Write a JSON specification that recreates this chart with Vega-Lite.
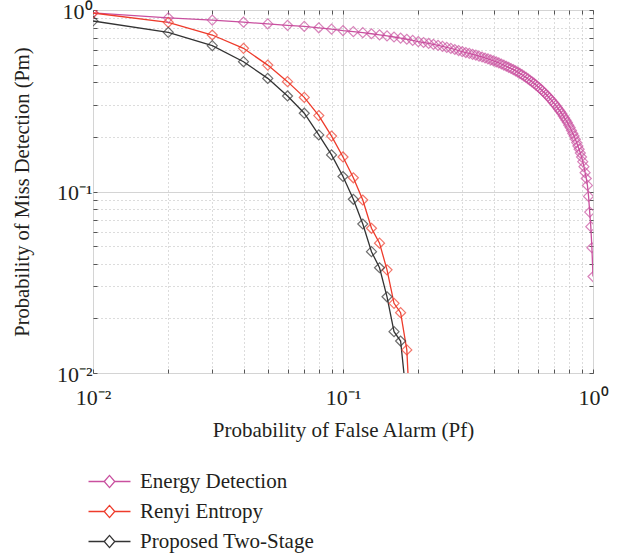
{
  "$schema": "https://vega.github.io/schema/vega-lite/v6.json",
  "width": 500,
  "height": 363,
  "autosize": "none",
  "padding": {"left": 93, "top": 10, "right": 32, "bottom": 183},
  "background": "white",
  "config": {
    "view": {"stroke": "#555555", "strokeWidth": 1},
    "font": "Liberation Serif",
    "axis": {
      "labelFont": "Liberation Serif",
      "labelFontSize": 22,
      "labelColor": "#231f20",
      "titleFont": "Liberation Serif",
      "titleFontSize": 21,
      "titleFontWeight": "normal",
      "titleColor": "#231f20",
      "domain": false,
      "tickColor": "#555555",
      "tickSize": -4,
      "labelFlush": false,
      "labelOverlap": false
    }
  },
  "data": {
    "values": [
      {"s": "Energy Detection", "pf": 0.01, "pm": 0.965},
      {"s": "Energy Detection", "pf": 0.02, "pm": 0.905},
      {"s": "Energy Detection", "pf": 0.03, "pm": 0.88},
      {"s": "Energy Detection", "pf": 0.04, "pm": 0.857},
      {"s": "Energy Detection", "pf": 0.05, "pm": 0.838},
      {"s": "Energy Detection", "pf": 0.06, "pm": 0.823},
      {"s": "Energy Detection", "pf": 0.07, "pm": 0.812},
      {"s": "Energy Detection", "pf": 0.08, "pm": 0.798},
      {"s": "Energy Detection", "pf": 0.09, "pm": 0.784},
      {"s": "Energy Detection", "pf": 0.1, "pm": 0.77},
      {"s": "Energy Detection", "pf": 0.11, "pm": 0.76},
      {"s": "Energy Detection", "pf": 0.12, "pm": 0.75},
      {"s": "Energy Detection", "pf": 0.13, "pm": 0.74},
      {"s": "Energy Detection", "pf": 0.14, "pm": 0.73},
      {"s": "Energy Detection", "pf": 0.15, "pm": 0.72},
      {"s": "Energy Detection", "pf": 0.16, "pm": 0.71},
      {"s": "Energy Detection", "pf": 0.17, "pm": 0.7},
      {"s": "Energy Detection", "pf": 0.18, "pm": 0.69},
      {"s": "Energy Detection", "pf": 0.19, "pm": 0.68},
      {"s": "Energy Detection", "pf": 0.2, "pm": 0.67},
      {"s": "Energy Detection", "pf": 0.21, "pm": 0.662},
      {"s": "Energy Detection", "pf": 0.22, "pm": 0.654},
      {"s": "Energy Detection", "pf": 0.23, "pm": 0.646},
      {"s": "Energy Detection", "pf": 0.24, "pm": 0.638},
      {"s": "Energy Detection", "pf": 0.25, "pm": 0.63},
      {"s": "Energy Detection", "pf": 0.26, "pm": 0.622},
      {"s": "Energy Detection", "pf": 0.27, "pm": 0.614},
      {"s": "Energy Detection", "pf": 0.28, "pm": 0.606},
      {"s": "Energy Detection", "pf": 0.29, "pm": 0.598},
      {"s": "Energy Detection", "pf": 0.3, "pm": 0.59},
      {"s": "Energy Detection", "pf": 0.31, "pm": 0.583},
      {"s": "Energy Detection", "pf": 0.32, "pm": 0.577},
      {"s": "Energy Detection", "pf": 0.33, "pm": 0.57},
      {"s": "Energy Detection", "pf": 0.34, "pm": 0.564},
      {"s": "Energy Detection", "pf": 0.35, "pm": 0.557},
      {"s": "Energy Detection", "pf": 0.36, "pm": 0.551},
      {"s": "Energy Detection", "pf": 0.37, "pm": 0.544},
      {"s": "Energy Detection", "pf": 0.38, "pm": 0.538},
      {"s": "Energy Detection", "pf": 0.39, "pm": 0.531},
      {"s": "Energy Detection", "pf": 0.4, "pm": 0.525},
      {"s": "Energy Detection", "pf": 0.41, "pm": 0.518},
      {"s": "Energy Detection", "pf": 0.42, "pm": 0.511},
      {"s": "Energy Detection", "pf": 0.43, "pm": 0.504},
      {"s": "Energy Detection", "pf": 0.44, "pm": 0.497},
      {"s": "Energy Detection", "pf": 0.45, "pm": 0.49},
      {"s": "Energy Detection", "pf": 0.46, "pm": 0.483},
      {"s": "Energy Detection", "pf": 0.47, "pm": 0.476},
      {"s": "Energy Detection", "pf": 0.48, "pm": 0.469},
      {"s": "Energy Detection", "pf": 0.49, "pm": 0.462},
      {"s": "Energy Detection", "pf": 0.5, "pm": 0.455},
      {"s": "Energy Detection", "pf": 0.51, "pm": 0.447},
      {"s": "Energy Detection", "pf": 0.52, "pm": 0.44},
      {"s": "Energy Detection", "pf": 0.53, "pm": 0.432},
      {"s": "Energy Detection", "pf": 0.54, "pm": 0.425},
      {"s": "Energy Detection", "pf": 0.55, "pm": 0.417},
      {"s": "Energy Detection", "pf": 0.56, "pm": 0.41},
      {"s": "Energy Detection", "pf": 0.57, "pm": 0.402},
      {"s": "Energy Detection", "pf": 0.58, "pm": 0.395},
      {"s": "Energy Detection", "pf": 0.59, "pm": 0.387},
      {"s": "Energy Detection", "pf": 0.6, "pm": 0.38},
      {"s": "Energy Detection", "pf": 0.61, "pm": 0.372},
      {"s": "Energy Detection", "pf": 0.62, "pm": 0.365},
      {"s": "Energy Detection", "pf": 0.63, "pm": 0.357},
      {"s": "Energy Detection", "pf": 0.64, "pm": 0.35},
      {"s": "Energy Detection", "pf": 0.65, "pm": 0.342},
      {"s": "Energy Detection", "pf": 0.66, "pm": 0.335},
      {"s": "Energy Detection", "pf": 0.67, "pm": 0.327},
      {"s": "Energy Detection", "pf": 0.68, "pm": 0.32},
      {"s": "Energy Detection", "pf": 0.69, "pm": 0.312},
      {"s": "Energy Detection", "pf": 0.7, "pm": 0.305},
      {"s": "Energy Detection", "pf": 0.71, "pm": 0.298},
      {"s": "Energy Detection", "pf": 0.72, "pm": 0.29},
      {"s": "Energy Detection", "pf": 0.73, "pm": 0.283},
      {"s": "Energy Detection", "pf": 0.74, "pm": 0.276},
      {"s": "Energy Detection", "pf": 0.75, "pm": 0.269},
      {"s": "Energy Detection", "pf": 0.76, "pm": 0.261},
      {"s": "Energy Detection", "pf": 0.77, "pm": 0.254},
      {"s": "Energy Detection", "pf": 0.78, "pm": 0.247},
      {"s": "Energy Detection", "pf": 0.79, "pm": 0.24},
      {"s": "Energy Detection", "pf": 0.8, "pm": 0.232},
      {"s": "Energy Detection", "pf": 0.81, "pm": 0.225},
      {"s": "Energy Detection", "pf": 0.82, "pm": 0.217},
      {"s": "Energy Detection", "pf": 0.83, "pm": 0.209},
      {"s": "Energy Detection", "pf": 0.84, "pm": 0.202},
      {"s": "Energy Detection", "pf": 0.85, "pm": 0.194},
      {"s": "Energy Detection", "pf": 0.86, "pm": 0.186},
      {"s": "Energy Detection", "pf": 0.87, "pm": 0.178},
      {"s": "Energy Detection", "pf": 0.88, "pm": 0.171},
      {"s": "Energy Detection", "pf": 0.89, "pm": 0.163},
      {"s": "Energy Detection", "pf": 0.9, "pm": 0.155},
      {"s": "Energy Detection", "pf": 0.91, "pm": 0.146},
      {"s": "Energy Detection", "pf": 0.92, "pm": 0.137},
      {"s": "Energy Detection", "pf": 0.93, "pm": 0.127},
      {"s": "Energy Detection", "pf": 0.94, "pm": 0.118},
      {"s": "Energy Detection", "pf": 0.95, "pm": 0.108},
      {"s": "Energy Detection", "pf": 0.96, "pm": 0.094},
      {"s": "Energy Detection", "pf": 0.97, "pm": 0.077},
      {"s": "Energy Detection", "pf": 0.98, "pm": 0.064},
      {"s": "Energy Detection", "pf": 0.99, "pm": 0.049},
      {"s": "Energy Detection", "pf": 1.0, "pm": 0.034},
      {"s": "Renyi Entropy", "pf": 0.01, "pm": 0.963},
      {"s": "Renyi Entropy", "pf": 0.02, "pm": 0.855},
      {"s": "Renyi Entropy", "pf": 0.03, "pm": 0.728},
      {"s": "Renyi Entropy", "pf": 0.04, "pm": 0.615},
      {"s": "Renyi Entropy", "pf": 0.05, "pm": 0.497},
      {"s": "Renyi Entropy", "pf": 0.06, "pm": 0.403},
      {"s": "Renyi Entropy", "pf": 0.07, "pm": 0.33},
      {"s": "Renyi Entropy", "pf": 0.08, "pm": 0.262},
      {"s": "Renyi Entropy", "pf": 0.09, "pm": 0.202},
      {"s": "Renyi Entropy", "pf": 0.1, "pm": 0.155},
      {"s": "Renyi Entropy", "pf": 0.11, "pm": 0.119},
      {"s": "Renyi Entropy", "pf": 0.12, "pm": 0.0898},
      {"s": "Renyi Entropy", "pf": 0.13, "pm": 0.0627},
      {"s": "Renyi Entropy", "pf": 0.14, "pm": 0.0519},
      {"s": "Renyi Entropy", "pf": 0.15, "pm": 0.037},
      {"s": "Renyi Entropy", "pf": 0.16, "pm": 0.0242},
      {"s": "Renyi Entropy", "pf": 0.17, "pm": 0.0215},
      {"s": "Renyi Entropy", "pf": 0.18, "pm": 0.0134},
      {"s": "Renyi Entropy", "pf": 0.19, "pm": 0.003},
      {"s": "Proposed Two-Stage", "pf": 0.01, "pm": 0.87},
      {"s": "Proposed Two-Stage", "pf": 0.02, "pm": 0.753},
      {"s": "Proposed Two-Stage", "pf": 0.03, "pm": 0.636},
      {"s": "Proposed Two-Stage", "pf": 0.04, "pm": 0.519},
      {"s": "Proposed Two-Stage", "pf": 0.05, "pm": 0.42},
      {"s": "Proposed Two-Stage", "pf": 0.06, "pm": 0.336},
      {"s": "Proposed Two-Stage", "pf": 0.07, "pm": 0.27},
      {"s": "Proposed Two-Stage", "pf": 0.08, "pm": 0.205},
      {"s": "Proposed Two-Stage", "pf": 0.09, "pm": 0.159},
      {"s": "Proposed Two-Stage", "pf": 0.1, "pm": 0.121},
      {"s": "Proposed Two-Stage", "pf": 0.11, "pm": 0.0906},
      {"s": "Proposed Two-Stage", "pf": 0.12, "pm": 0.0662},
      {"s": "Proposed Two-Stage", "pf": 0.13, "pm": 0.0466},
      {"s": "Proposed Two-Stage", "pf": 0.14, "pm": 0.038},
      {"s": "Proposed Two-Stage", "pf": 0.15, "pm": 0.0263},
      {"s": "Proposed Two-Stage", "pf": 0.16, "pm": 0.0169},
      {"s": "Proposed Two-Stage", "pf": 0.17, "pm": 0.015},
      {"s": "Proposed Two-Stage", "pf": 0.18, "pm": 0.007}
    ]
  },
  "resolve": {"axis": {"x": "independent", "y": "independent"}},
  "layer": [
    {
      "mark": {"type": "line", "clip": true, "strokeWidth": 1.3},
      "encoding": {
        "x": {
          "field": "pf", "type": "quantitative",
          "scale": {"type": "log", "domain": [0.01, 1], "nice": false},
          "axis": {
            "orient": "bottom",
            "title": "Probability of False Alarm (Pf)",
            "values": [0.01,0.02,0.03,0.04,0.05,0.06,0.07,0.08,0.09,0.1,0.2,0.3,0.4,0.5,0.6,0.7,0.8,0.9,1],
            "labelExpr": "datum.value == 0.01 ? '10⁻²' : datum.value == 0.1 ? '10⁻¹' : datum.value == 1 ? '10⁰' : ''",
            "labelPadding": 18,
            "titlePadding": 11,
            "gridDash": {"condition": {"test": "datum.value == 0.01 || datum.value == 0.1 || datum.value == 1", "value": []}, "value": [1, 3]},
            "gridColor": {"condition": {"test": "datum.value == 0.01 || datum.value == 0.1 || datum.value == 1", "value": "#d4d4d4"}, "value": "#b8b8b8"},
            "gridOpacity": 1,
            "gridWidth": 1
          }
        },
        "y": {
          "field": "pm", "type": "quantitative",
          "scale": {"type": "log", "domain": [0.01, 1], "nice": false},
          "axis": {
            "orient": "left",
            "title": "Probability of Miss Detection (Pm)",
            "titleFontSize": 20.5,
            "values": [0.01,0.02,0.03,0.04,0.05,0.06,0.07,0.08,0.09,0.1,0.2,0.3,0.4,0.5,0.6,0.7,0.8,0.9,1],
            "labelExpr": "datum.value == 0.01 ? '10⁻²' : datum.value == 0.1 ? '10⁻¹' : datum.value == 1 ? '10⁰' : ''",
            "labelPadding": 5,
            "labelBaseline": "top",
            "labelOffset": -9,
            "titlePadding": 24,
            "gridDash": {"condition": {"test": "datum.value == 0.01 || datum.value == 0.1 || datum.value == 1", "value": []}, "value": [1, 3]},
            "gridColor": {"condition": {"test": "datum.value == 0.01 || datum.value == 0.1 || datum.value == 1", "value": "#d4d4d4"}, "value": "#b8b8b8"},
            "gridOpacity": 1,
            "gridWidth": 1
          }
        },
        "color": {
          "field": "s", "type": "nominal",
          "scale": {"domain": ["Energy Detection", "Renyi Entropy", "Proposed Two-Stage"], "range": ["#c9509f", "#ee3b2b", "#333333"]},
          "legend": {
            "orient": "none",
            "legendX": 6,
            "legendY": 461,
            "title": null,
            "padding": 0,
            "symbolType": "M-2.47,0L-0.62,0M0.62,0L2.47,0M-0.62,0L0,-0.72L0.62,0L0,0.72Z",
            "symbolSize": 289,
            "symbolStrokeWidth": 1.3,
            "symbolFillColor": "transparent",
            "labelFont": "Liberation Serif",
            "labelFontSize": 21,
            "labelColor": "#231f20",
            "labelOffset": 20,
            "labelLimit": 0,
            "rowPadding": 8
          }
        }
      }
    },
    {
      "mark": {"type": "point", "shape": "diamond", "filled": false, "size": 100, "strokeWidth": 1.2, "clip": true},
      "encoding": {
        "x": {
          "field": "pf", "type": "quantitative",
          "scale": {"type": "log", "domain": [0.01, 1], "nice": false},
          "axis": {"orient": "top", "title": null, "labels": false, "grid": false,
            "values": [0.01,0.02,0.03,0.04,0.05,0.06,0.07,0.08,0.09,0.1,0.2,0.3,0.4,0.5,0.6,0.7,0.8,0.9,1]}
        },
        "y": {
          "field": "pm", "type": "quantitative",
          "scale": {"type": "log", "domain": [0.01, 1], "nice": false},
          "axis": {"orient": "right", "title": null, "labels": false, "grid": false,
            "values": [0.01,0.02,0.03,0.04,0.05,0.06,0.07,0.08,0.09,0.1,0.2,0.3,0.4,0.5,0.6,0.7,0.8,0.9,1]}
        },
        "color": {"field": "s", "type": "nominal", "legend": null}
      }
    }
  ]
}
